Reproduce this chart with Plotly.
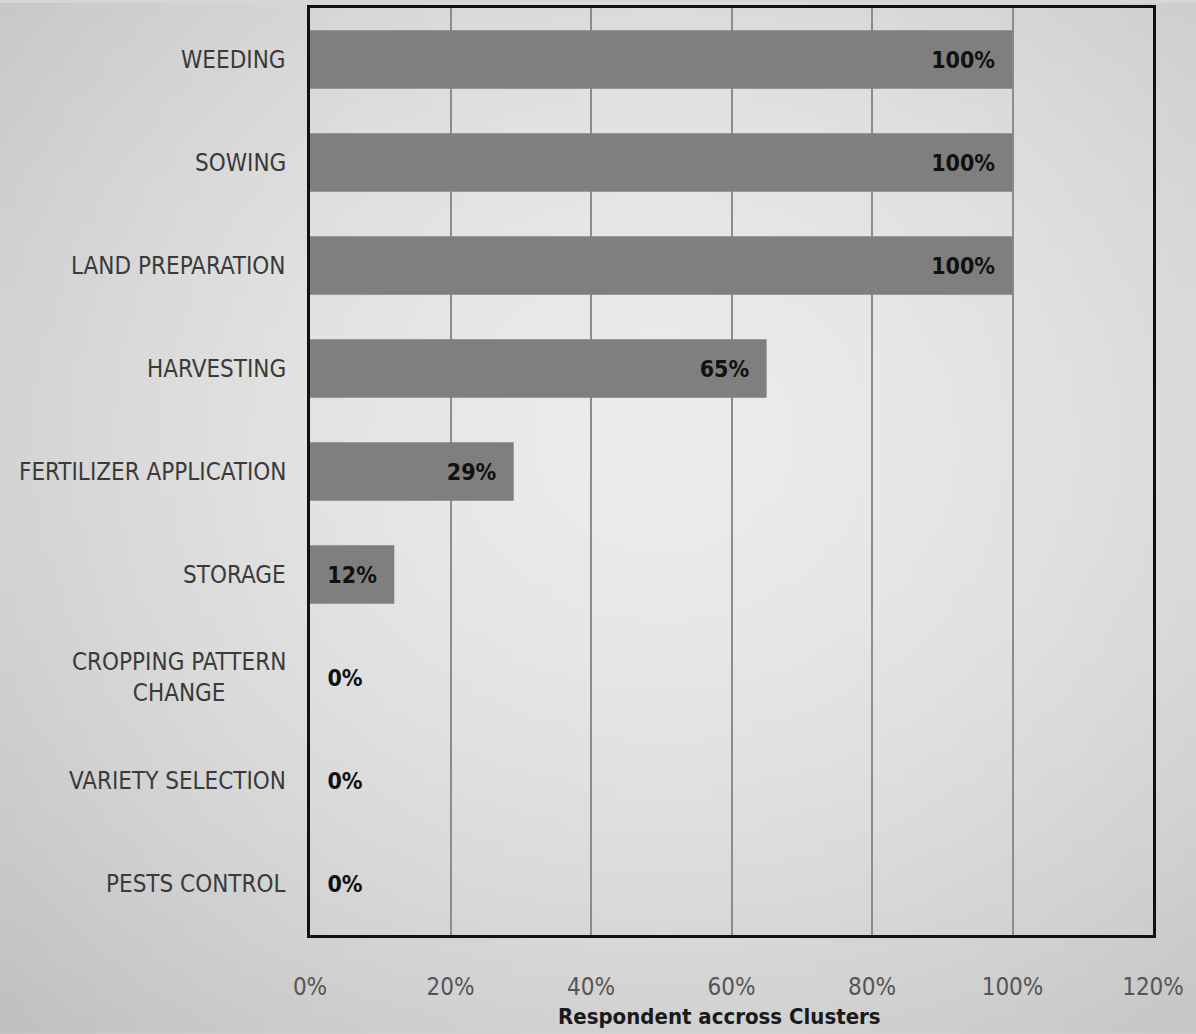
import base64, struct, zlib
import numpy as np
import plotly.graph_objects as go

categories = ["WEEDING", "SOWING", "LAND PREPARATION", "HARVESTING",
              "FERTILIZER APPLICATION", "STORAGE", "CROPPING PATTERN<br>CHANGE",
              "VARIETY SELECTION", "PESTS CONTROL"]
values = [100, 100, 100, 65, 29, 12, 0, 0, 0]
x_ticks = [0, 20, 40, 60, 80, 100, 120]
x_tick_labels = ["0%", "20%", "40%", "60%", "80%", "100%", "120%"]
x_title = "Respondent accross Clusters"

W, H = 1196, 1034
ML, MR, MT, MB = 310, 43, 5, 99
FONT = "DejaVu Sans Condensed, Liberation Sans Narrow, sans-serif"

# background radial gradient as a small PNG
def gradient_png(w=120, h=104):
    yy, xx = np.mgrid[0:h, 0:w]
    cx, cy = w * 0.55, h * 0.42
    d = np.sqrt(((xx - cx) / w) ** 2 + ((yy - cy) / h) ** 2)
    d = d / d.max()
    v = (236 - 44 * d ** 1.6).clip(0, 255).astype(np.uint8)
    raw = b"".join(b"\x00" + bytes(row) for row in v)
    def chunk(t, data):
        c = struct.pack(">I", len(data)) + t + data
        return c + struct.pack(">I", zlib.crc32(t + data) & 0xffffffff)
    png = b"\x89PNG\r\n\x1a\n" + chunk(b"IHDR", struct.pack(">IIBBBBB", w, h, 8, 0, 0, 0, 0)) \
        + chunk(b"IDAT", zlib.compress(raw, 9)) + chunk(b"IEND", b"")
    return "data:image/png;base64," + base64.b64encode(png).decode()

pw, ph = W - ML - MR, H - MT - MB

NB = "\u00a0"
positions = ["inside" if v > 0 else "outside" for v in values]
labels = [f"{v}%{NB*2}" if v > 0 else f"{NB*2}{v}%" for v in values]
lab_font = dict(family=FONT, size=23, color="#111111", weight="bold")

fig = go.Figure(go.Bar(
    x=values, y=categories, orientation="h",
    marker=dict(color="#7f7f7f", line=dict(width=0)),
    width=0.57,
    text=labels,
    textposition=positions,
    insidetextanchor="end",
    textfont=lab_font, outsidetextfont=lab_font, insidetextfont=lab_font,
    cliponaxis=False,
))

annotations = []
for c in categories:
    annotations.append(dict(
        x=-22 / pw, xref="paper", y=c, yref="y", text=c, showarrow=False,
        xanchor="right", align="center", yanchor="middle",
        font=dict(family=FONT, size=24, color="#3a3a3a")))
annotations.append(dict(
    x=(719 - ML) / pw, xref="paper", y=-(1017 - MT - ph) / ph, yref="paper",
    text=f"<b>{x_title}</b>", showarrow=False, xanchor="center", yanchor="middle",
    font=dict(family=FONT, size=22, color="#1a1a1a")))

fig.update_layout(
    width=W, height=H,
    margin=dict(l=ML, r=MR, t=MT, b=MB, pad=0),
    paper_bgcolor="#d6d6d6",
    plot_bgcolor="rgba(0,0,0,0)",
    showlegend=False,
    bargap=0.43,
    annotations=annotations,
    images=[dict(source=gradient_png(), xref="paper", yref="paper",
                 x=-ML / pw, y=1 + MT / ph, sizex=W / pw, sizey=H / ph,
                 xanchor="left", yanchor="top", sizing="stretch", layer="below")],
    xaxis=dict(range=[0, 120], tickvals=x_ticks, ticktext=x_tick_labels,
               showgrid=True, gridcolor="#8c8c8c", gridwidth=1.5,
               showline=True, linecolor="#111111", linewidth=3, mirror=True,
               zeroline=False, ticks="", ticklabelstandoff=28,
               tickfont=dict(family=FONT, size=24, color="#555555")),
    yaxis=dict(autorange="reversed", categoryorder="array", categoryarray=categories,
               showticklabels=False, showgrid=False,
               showline=True, linecolor="#111111", linewidth=3, mirror=True,
               zeroline=False, ticks=""),
)

fig.write_html("out.html", config={"displayModeBar": False},
               post_script="document.body.style.margin='0';")
